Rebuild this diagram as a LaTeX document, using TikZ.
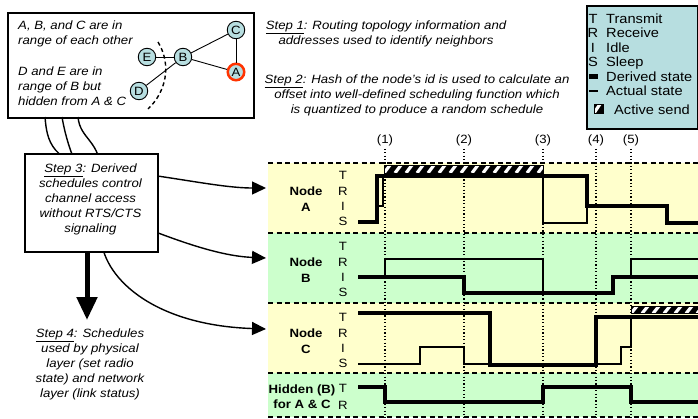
\documentclass[tikz,border=0pt]{standalone}
\usepackage{fontspec}
\setmainfont{Liberation Sans}[FakeStretch=1.1]
\usetikzlibrary{arrows.meta}
\definecolor{legbg}{RGB}{183,222,224}
\definecolor{nodebg}{RGB}{183,222,224}
\definecolor{rowy}{RGB}{255,255,204}
\definecolor{rowg}{RGB}{204,255,204}
\definecolor{redA}{RGB}{255,51,0}
\newcommand{\hatchbar}[4]{%
  \begin{scope}
    \clip (#1,#2) rectangle (#3,#4);
    \fill[black] (#1,#2) rectangle (#3,#4);
    \foreach \k in {-1,...,16}
      \draw[white, line width=3.2pt] ({#1+\k*11},#4) -- ({#1+\k*11+6},#2);
  \end{scope}
  \draw[line width=0.8pt] (#1,#2) rectangle (#3,#4);
}
\begin{document}
\begin{tikzpicture}[x=1pt,y=-1pt,
  ann/.style={inner sep=0pt, font=\fontsize{12}{15}\selectfont\itshape},
  gnode/.style={circle, draw, fill=nodebg, line width=0.9pt, minimum size=17.5pt, inner sep=0pt, font=\fontsize{12}{12}\selectfont},
  framebox/.style={draw, line width=1.5pt, inner sep=0pt, anchor=north west},
  lvl/.style={inner sep=0pt, anchor=base, font=\fontsize{12}{12}\selectfont},
  rowlab/.style={inner sep=0pt, anchor=north, align=center, font=\fontsize{12}{16}\selectfont\bfseries},
  tlab/.style={inner sep=0pt, font=\fontsize{12}{12}\selectfont},
  rowsep/.style={line width=1.5pt, dash pattern=on 5pt off 3.5pt},
  dotline/.style={line width=1.2pt, dash pattern=on 1.2pt off 2.2pt},
  derived/.style={line width=4.5pt, line join=miter},
  actual/.style={line width=1.4pt, line join=miter},
  flow/.style={line width=1.4pt, -{Triangle[length=14pt,width=13pt]}},
  legtxt/.style={inner sep=0pt, anchor=base west, font=\fontsize{13.3}{14}\selectfont},
  legsym/.style={inner sep=0pt, anchor=base, font=\fontsize{13.3}{14}\selectfont},
]
\useasboundingbox (0,0) rectangle (698,418);

% ---------- timing area backgrounds ----------
\fill[rowy] (268,163) rectangle (698,233);
\fill[rowg] (268,233) rectangle (698,303);
\fill[rowy] (268,303) rectangle (698,373);
\fill[rowg] (268,373) rectangle (698,417);

% ---------- event labels and dotted lines ----------
\foreach \i/\x in {1/385,2/464,3/543,4/596,5/631}{
  \node[tlab] (ev\i) at (\x,140) {(\i)};
  \coordinate (evb\i) at (\x,418);
  \draw[dotline] (ev\i.south) ++(0,3) -- (evb\i);
}

% ---------- row separators ----------
\foreach \y in {163,233,303,373,417}
  \draw[rowsep] (268,\y) -- (698,\y);

% ---------- row labels ----------
\node[rowlab] (nA) at (306,186.5) {Node\\A};
\node[rowlab] (nB) at (306,257.5) {Node\\B};
\node[rowlab] (nC) at (306,328.5) {Node\\C};
\node[rowlab, font=\fontsize{12}{15.5}\selectfont\bfseries] (nH) at (302,384.5) {Hidden (B)\\for A \& C};

\foreach \r/\t in {A/175,B/246,C/317}{
  \node[lvl] (T\r) at (343,\t+4.3) {T};
  \node[lvl] (R\r) at (343,\t+20.3) {R};
  \node[lvl] (I\r) at (343,\t+35.3) {I};
  \node[lvl] (S\r) at (343,\t+50.3) {S};
}
\node[lvl] (TH) at (343,392.3) {T};
\node[lvl] (RH) at (343,409.3) {R};

% ---------- waveforms ----------
% Node A
\draw[actual] (379,206) -- (383,206) -- (383,176) -- (543,176) -- (543,223) -- (587,223) -- (587,206);
\draw[derived] (358,222) -- (377,222) -- (377,176) -- (587,176) -- (587,206) -- (667,206) -- (667,223) -- (698,223);
\hatchbar{384}{165}{543}{173}
% Node B
\draw[actual] (385,277) -- (385,259) -- (543,259) -- (543,293) -- (613,293) -- (613,277) -- (631,277) -- (631,259) -- (698,259);
\draw[derived] (358,277) -- (464,277) -- (464,293) -- (613,293) -- (613,277) -- (698,277);
% Node C
\draw[actual] (358,364) -- (420,364) -- (420,347) -- (464,347) -- (464,364) -- (621,364) -- (621,347) -- (631,347) -- (631,317);
\draw[derived] (358,313) -- (490,313) -- (490,365) -- (596,365) -- (596,317) -- (698,317);
\hatchbar{631}{306}{698}{313.5}
% Hidden
\draw[derived] (358,387) -- (385,387) -- (385,402) -- (543,402) -- (543,387) -- (631,387) -- (631,402) -- (698,402);

% ---------- top-left topology box ----------
\node[framebox, minimum width=246pt, minimum height=105pt] (topbox) at (7,12) {};
\node[ann, anchor=north west, align=left] (p1) at (18,20.6) {A, B, and C are in\\range of each other};
\node[ann, anchor=north west, align=left] (p2) at (18,66.6) {D and E are in\\range of B but\\hidden from A \& C};

\node[gnode] (C) at (236,30) {C};
\node[gnode] (E) at (147,57) {E};
\node[gnode] (B) at (183,57) {B};
\node[gnode] (D) at (139,91) {D};
\node[gnode, draw=redA, line width=2.5pt, minimum size=16.5pt] (A) at (236,72) {A};
\draw[line width=0.9pt] (E) -- (B);
\draw[line width=0.9pt] (B) -- (C);
\draw[line width=0.9pt] (B) -- (A);
\draw[line width=0.9pt] (C) -- (A);
\draw[line width=0.9pt] (D) -- (B);
\coordinate (dc1) at (158,42);
\coordinate (dc2) at (148,109);
\draw[line width=1.4pt, dash pattern=on 4pt off 3pt] (dc1) .. controls (172,65) and (166,92) .. (dc2);

% ---------- top texts ----------
\node[ann, anchor=north, align=center] (st1) at (386,20.6) {\underline{Step 1}: Routing topology information and\\addresses used to identify neighbors};
\node[ann, anchor=north, align=center] (st2) at (417,74.6) {\underline{Step 2}: Hash of the node's id is used to calculate an\\offset into well-defined scheduling function which\\is quantized to produce a random schedule};

% ---------- legend ----------
\node[framebox, fill=legbg, minimum width=111pt, minimum height=123pt] (legend) at (586,5) {};
\node[legsym] (lg1) at (593,23) {T};   \node[legtxt] (lt1) at (606,23) {Transmit};
\node[legsym] (lg2) at (593,37.5) {R}; \node[legtxt] (lt2) at (606,37.5) {Receive};
\node[legsym] (lg3) at (593,52) {I};   \node[legtxt] (lt3) at (606,52) {Idle};
\node[legsym] (lg4) at (593,66.5) {S}; \node[legtxt] (lt4) at (606,66.5) {Sleep};
\fill (589,74) rectangle (598,78.5);     \node[legtxt] (lt5) at (606,81) {Derived state};
\fill (589,89.5) rectangle (598,91.5);   \node[legtxt] (lt6) at (606,95.5) {Actual state};
\hatchbar{594}{104}{603}{113}
\node[legtxt] (lt7) at (614,114) {Active send};

% ---------- flow curves ----------
\coordinate (c1s) at (45,117);
\coordinate (c2s) at (62,117);
\coordinate (c3s) at (78,117);
\coordinate (ta) at (266,188);
\coordinate (tb) at (266,258);
\coordinate (tc) at (266,329);
\draw[flow] (c1s) .. controls (47,140) and (50,165) .. (110,170) .. controls (170,176) and (220,188) .. (ta);
\draw[flow] (c2s) .. controls (66,140) and (80,200) .. (130,222) .. controls (180,242) and (220,256) .. (tb);
\draw[flow] (c3s) .. controls (80,140) and (101,140) .. (101,175) -- (101,235) .. controls (101,275) and (150,325) .. (tc);

% ---------- step 3 box ----------
\node[framebox, fill=white, minimum width=133pt, minimum height=98pt] (s3box) at (24,153) {};
\node[ann, anchor=north, align=center] (s3txt) at (90.5,163.6) {\underline{Step 3}: Derived\\schedules control\\channel access\\without RTS/CTS\\signaling};

\coordinate (dn) at (87,320);
\draw[line width=5pt, -{Triangle[length=23pt,width=20pt]}] (s3box.south -| dn) -- (dn);

\node[ann, anchor=north, align=center] (s4txt) at (90,328.6) {\underline{Step 4}: Schedules\\used by physical\\layer (set radio\\state) and network\\layer (link status)};
\end{tikzpicture}
\end{document}
